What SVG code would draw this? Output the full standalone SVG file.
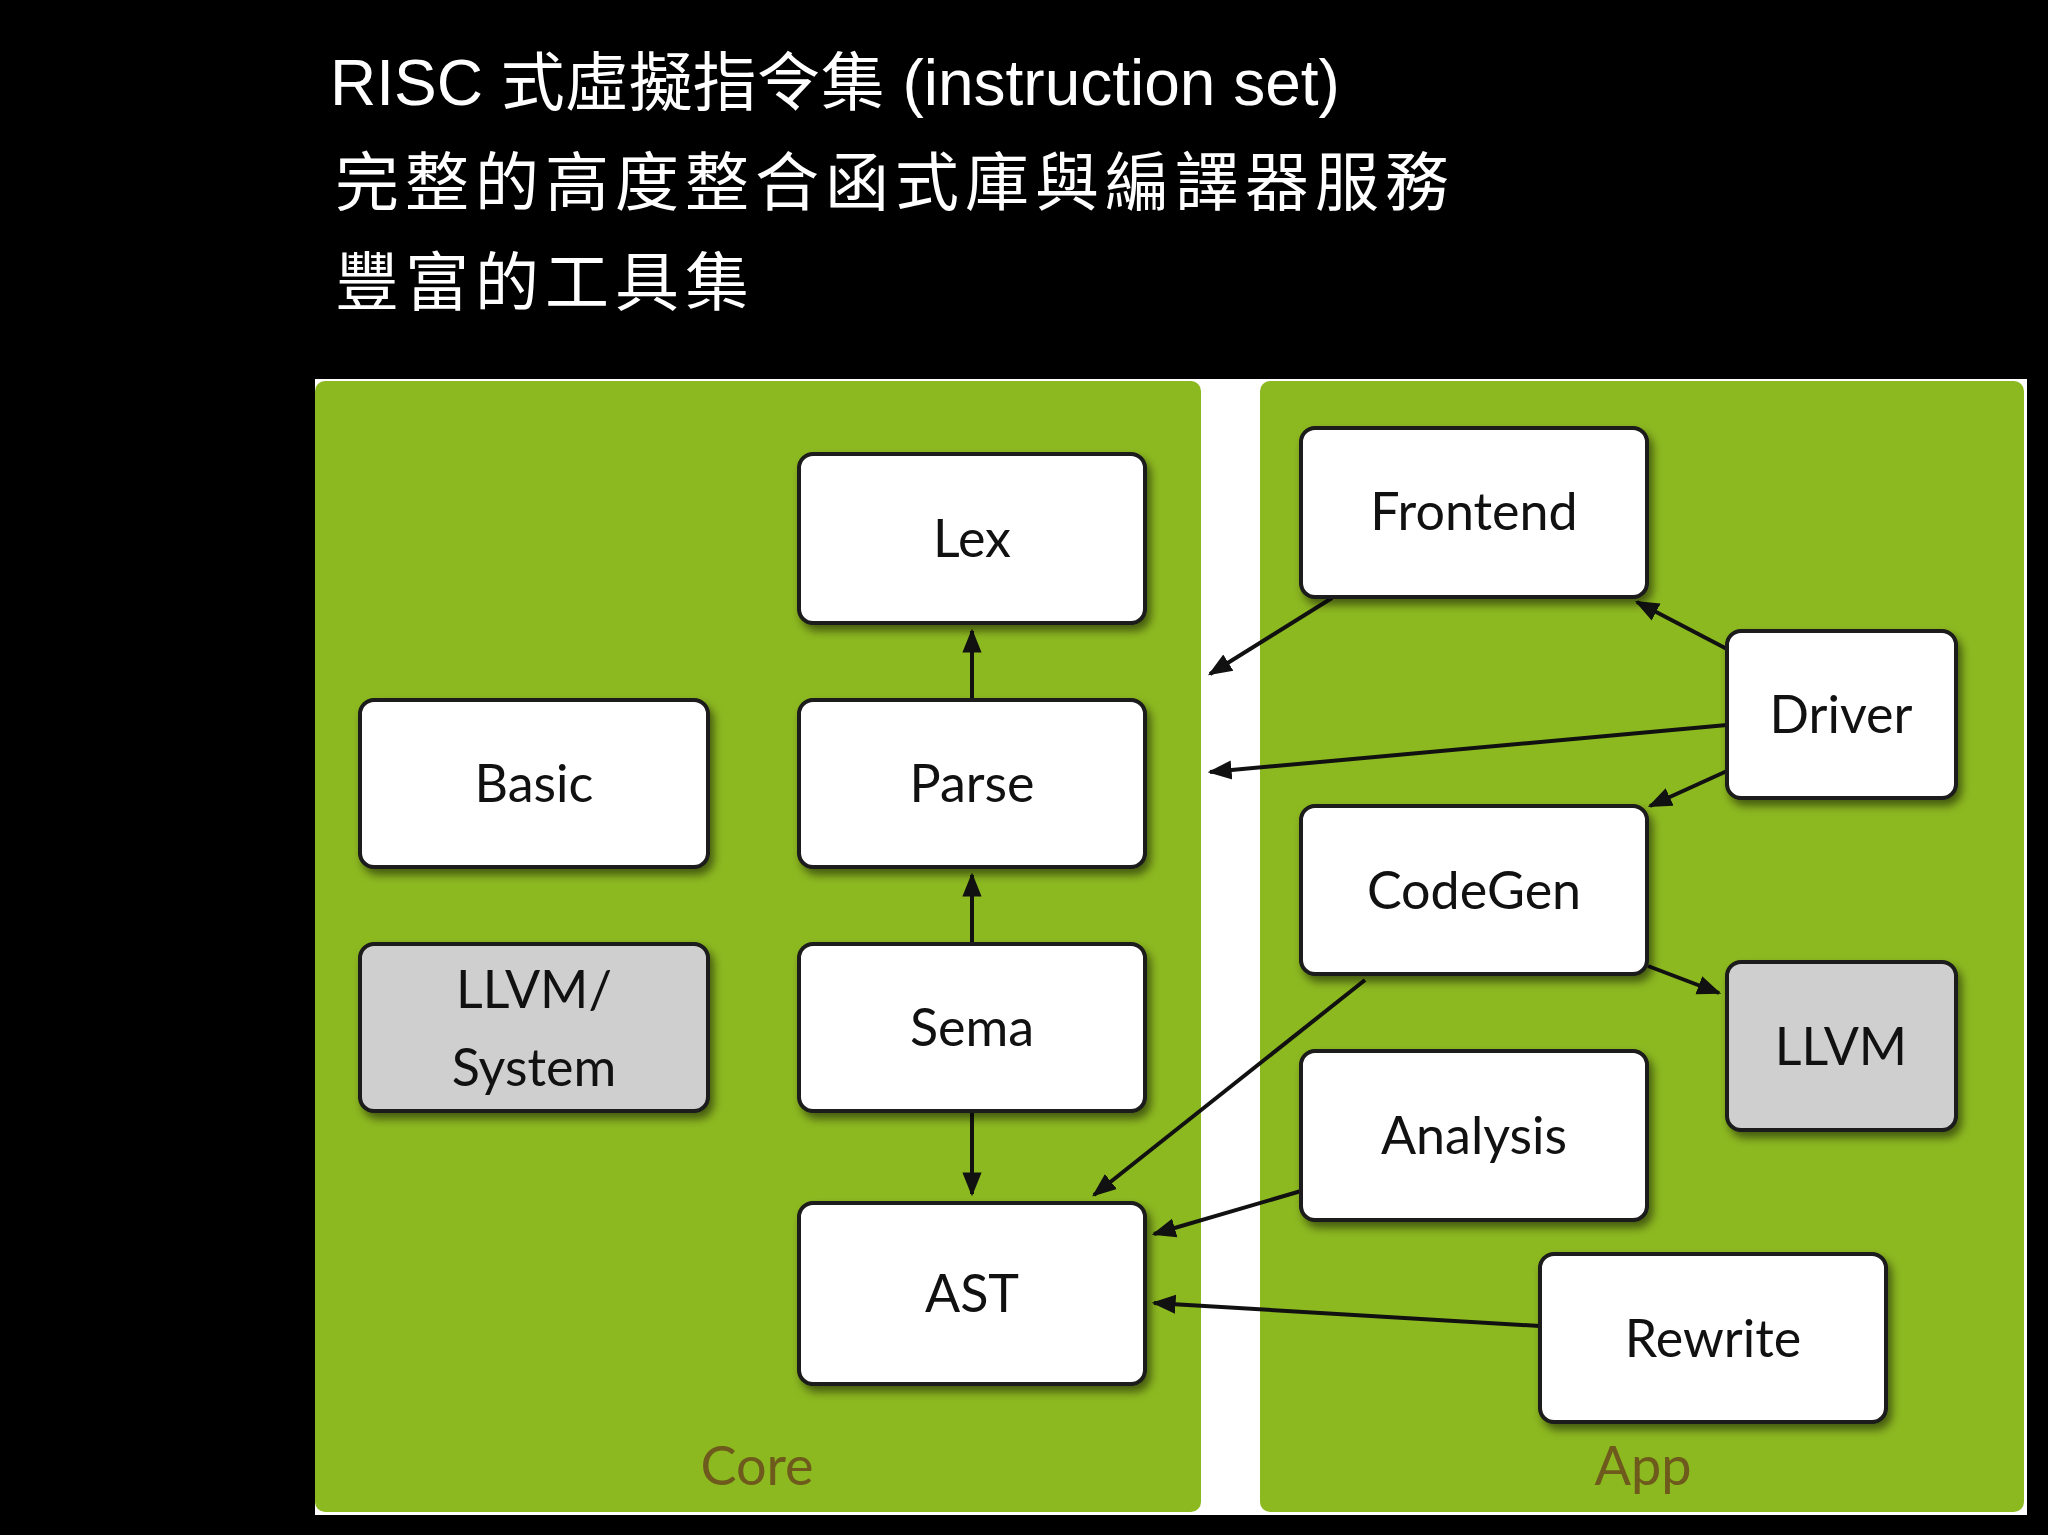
<svg xmlns="http://www.w3.org/2000/svg" width="2048" height="1535" viewBox="0 0 2048 1535">
<defs>
<style>
.t{font-family:"Liberation Sans","Noto Sans CJK TC",sans-serif;fill:#fff;font-size:64px}
.n{fill:#fff;stroke:#1a1a1a;stroke-width:4;filter:url(#sh)}
.g{fill:#cfcfcf}
.l{font-family:Lato,"Open Sans",sans-serif;font-size:52px;fill:#111;text-anchor:middle}
.p{font-family:Lato,"Open Sans",sans-serif;font-size:54px;fill:#6e5a1c;text-anchor:middle}
.c{stroke:#111;stroke-width:4;fill:none;marker-end:url(#a)}
</style>
<marker id="a" viewBox="0 0 10 10" refX="9" refY="5" markerWidth="6" markerHeight="6" orient="auto" markerUnits="strokeWidth"><path d="M0,1 L10,5 L0,9 z" fill="#111"/></marker>
<filter id="sh" x="-10%" y="-10%" width="125%" height="125%"><feDropShadow dx="4" dy="6" stdDeviation="4" flood-color="#000" flood-opacity="0.5"/></filter>
</defs>
<rect width="2048" height="1535" fill="#000"/>
<text class="t" x="330" y="105">RISC 式虛擬指令集 (instruction set)</text>
<text class="t" x="335" y="205" letter-spacing="6">完整的高度整合函式庫與編譯器服務</text>
<text class="t" x="335" y="305" letter-spacing="6">豐富的工具集</text>
<rect x="315" y="379" width="1712" height="1136" fill="#fff"/>
<rect x="315" y="381" width="886" height="1131" rx="10" fill="#8cb820"/>
<rect x="1260" y="381" width="764" height="1131" rx="10" fill="#8cb820"/>
<text class="p" x="757" y="1485">Core</text>
<text class="p" x="1643" y="1485">App</text>
<g id="connectors">
<line class="c" x1="972" y1="700" x2="972" y2="631"/>
<line class="c" x1="972" y1="944" x2="972" y2="875"/>
<line class="c" x1="972" y1="1111" x2="972" y2="1194"/>
<line class="c" x1="1332" y1="598" x2="1210" y2="674"/>
<line class="c" x1="1727" y1="649" x2="1637" y2="602"/>
<line class="c" x1="1727" y1="725" x2="1210" y2="772"/>
<line class="c" x1="1727" y1="771" x2="1650" y2="806"/>
<line class="c" x1="1648" y1="966" x2="1719" y2="993"/>
<line class="c" x1="1365" y1="980" x2="1094" y2="1195"/>
<line class="c" x1="1301" y1="1191" x2="1154" y2="1234"/>
<line class="c" x1="1540" y1="1326" x2="1154" y2="1303"/>
</g>
<g id="lex"><rect class="n" x="799" y="454" width="346" height="169" rx="14"/><text class="l" x="972" y="557">Lex</text></g>
<g id="parse"><rect class="n" x="799" y="700" width="346" height="167" rx="14"/><text class="l" x="972" y="802">Parse</text></g>
<g id="sema"><rect class="n" x="799" y="944" width="346" height="167" rx="14"/><text class="l" x="972" y="1046">Sema</text></g>
<g id="ast"><rect class="n" x="799" y="1203" width="346" height="181" rx="14"/><text class="l" x="972" y="1312">AST</text></g>
<g id="basic"><rect class="n" x="360" y="700" width="348" height="167" rx="14"/><text class="l" x="534" y="802">Basic</text></g>
<g id="llvmsystem"><rect class="n g" x="360" y="944" width="348" height="167" rx="14"/><text class="l" x="534" y="1008">LLVM/</text><text class="l" x="534" y="1086">System</text></g>
<g id="frontend"><rect class="n" x="1301" y="428" width="346" height="169" rx="14"/><text class="l" x="1474" y="530">Frontend</text></g>
<g id="driver"><rect class="n" x="1727" y="631" width="229" height="167" rx="14"/><text class="l" x="1841" y="733">Driver</text></g>
<g id="codegen"><rect class="n" x="1301" y="806" width="346" height="168" rx="14"/><text class="l" x="1474" y="909">CodeGen</text></g>
<g id="llvm"><rect class="n g" x="1727" y="962" width="229" height="168" rx="14"/><text class="l" x="1841" y="1065">LLVM</text></g>
<g id="analysis"><rect class="n" x="1301" y="1051" width="346" height="169" rx="14"/><text class="l" x="1474" y="1154">Analysis</text></g>
<g id="rewrite"><rect class="n" x="1540" y="1254" width="346" height="168" rx="14"/><text class="l" x="1713" y="1357">Rewrite</text></g>
</svg>
